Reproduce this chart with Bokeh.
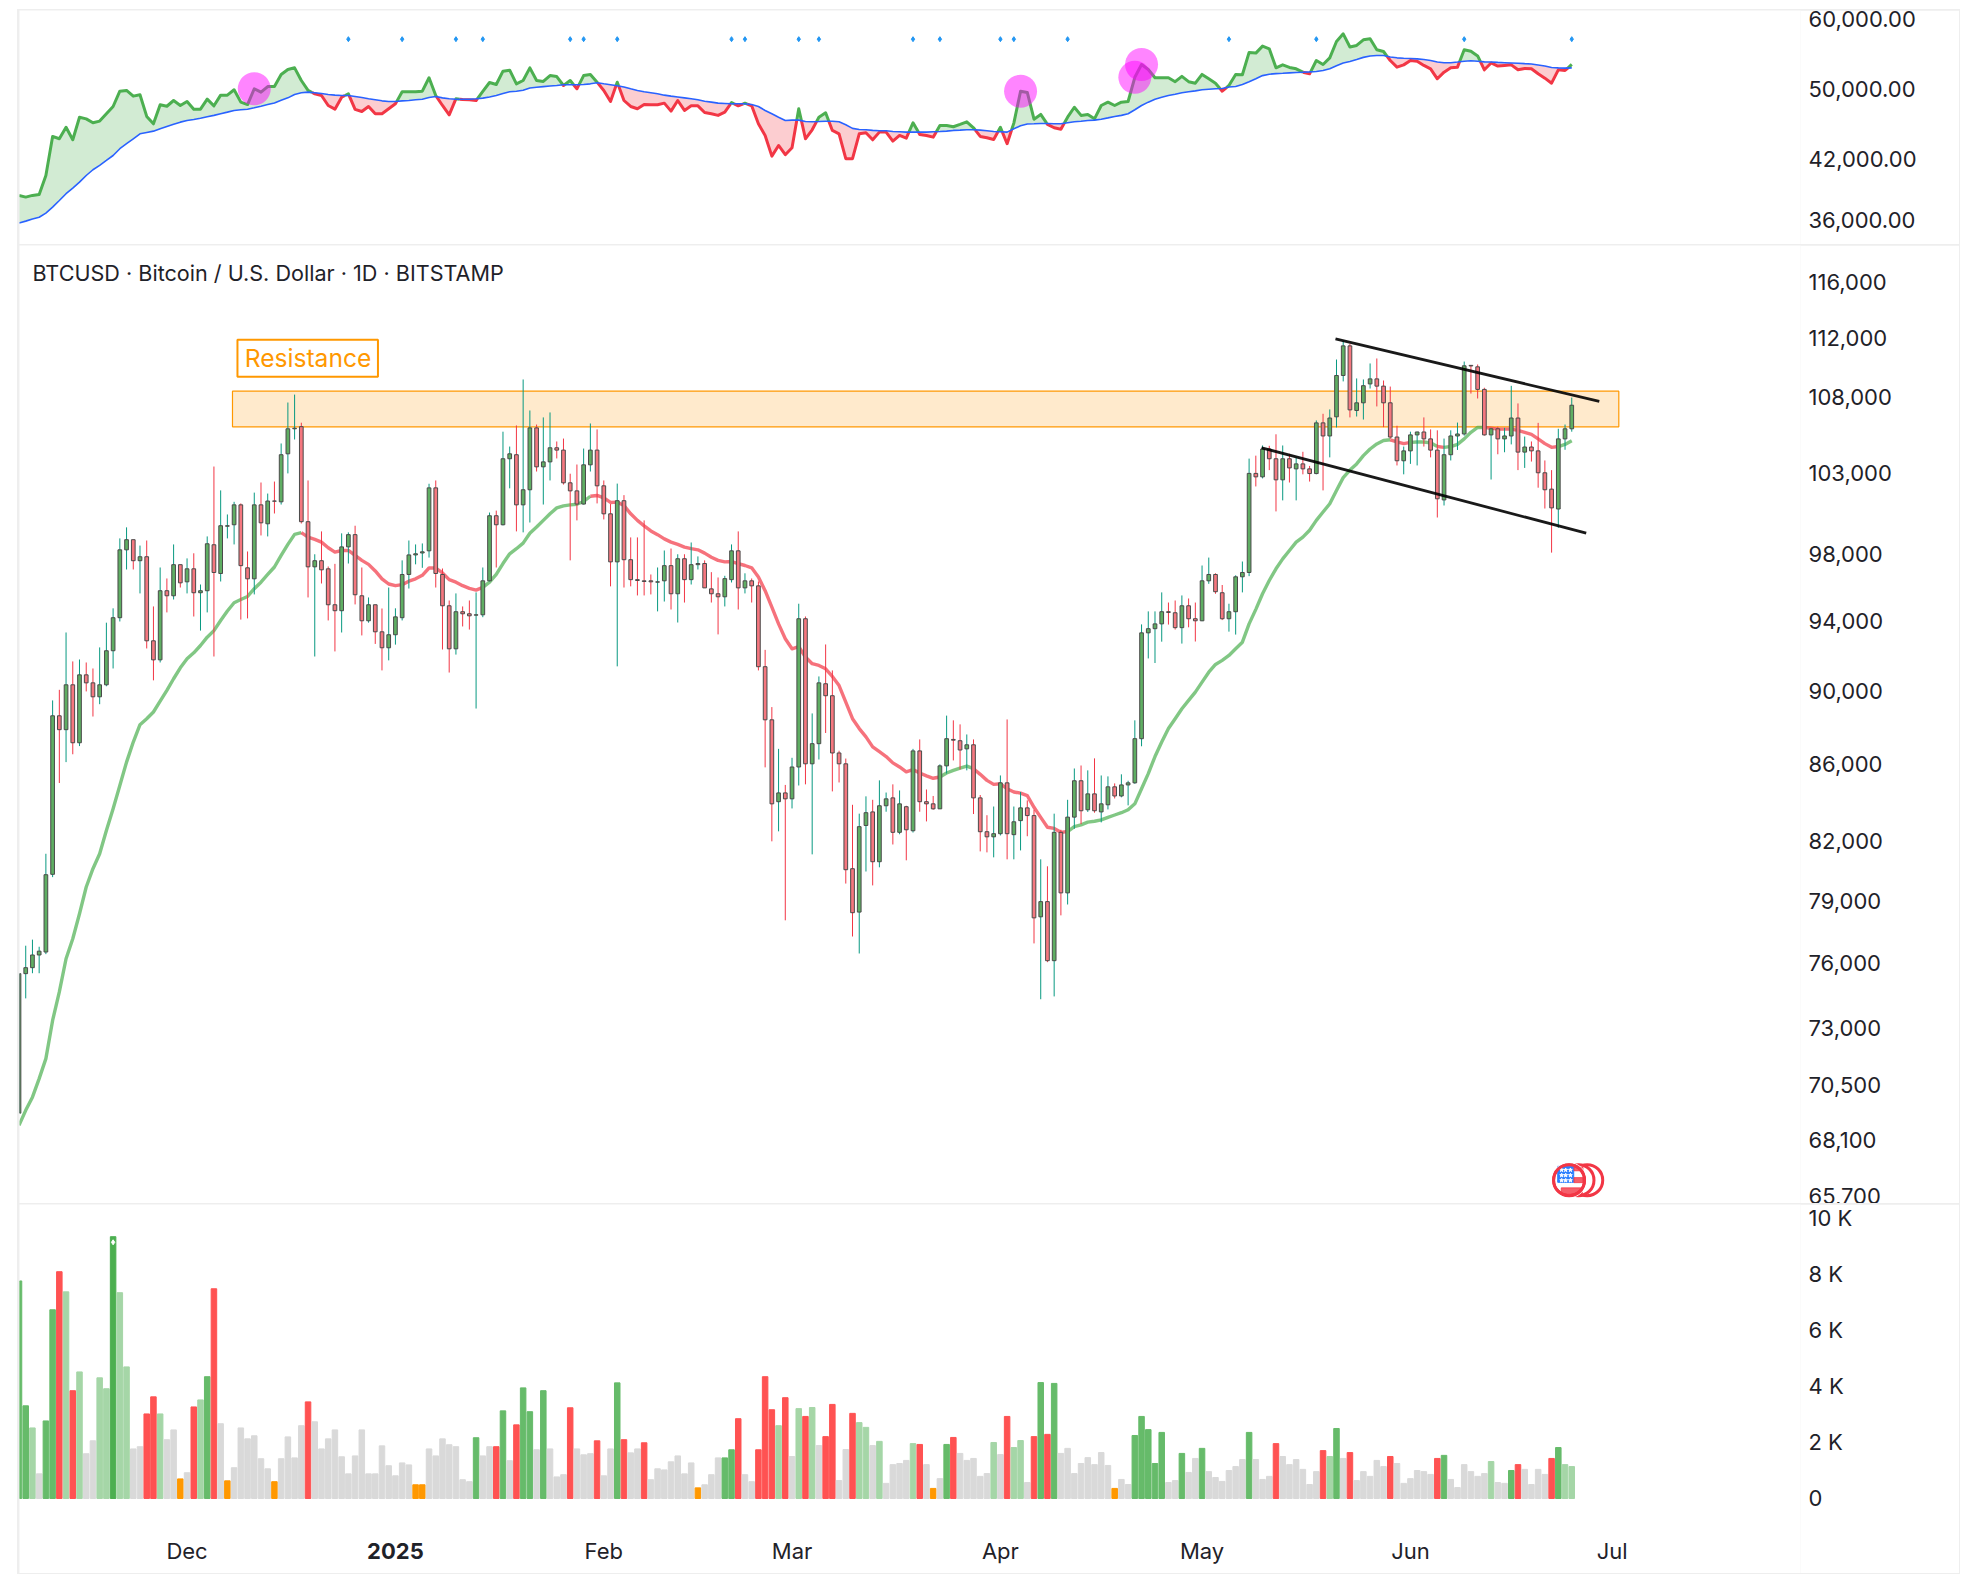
import math
from bokeh.plotting import figure
from bokeh.layouts import column
from bokeh.models import Range1d, FixedTicker, NumeralTickFormatter, Label
from bokeh.embed import file_html
from bokeh.resources import INLINE
from bokeh.core.properties import value

month_ticks = [25, 87, 115, 146, 176, 207, 237]
month_names = ["Dec", "Feb", "Mar", "Apr", "May", "Jun", "Jul"]
year_tick = 56
year_name = "2025"
axis_label_level = -1893

candle_open = [69260,75520,75800,76400,76540,80320,88620,87860,90340,87150,90900,90450,89670,90340,92270,94180,98230,98850,97570,97810,92840,91750,95770,95470,97330,96300,97080,95650,95770,98540,96800,99680,99770,101010,97140,96480,101010,99830,101250,101200,104260,105890,106030,99960,97200,97570,97080,94940,94590,98410,99160,95470,94000,94940,93360,92440,93190,94180,96740,97920,98040,98170,102080,96740,94880,92380,94530,94410,94330,94350,96360,100330,99770,103940,104200,101010,101960,105950,103420,103740,104650,104500,102400,101890,101060,103550,104500,102210,100450,97500,101270,97630,96430,96360,96360,96280,96360,97270,95590,97690,96430,97330,97400,95880,95590,95410,96430,98170,95940,96360,96060,91360,88400,84020,84480,84170,85850,94120,86020,87100,90400,89730,86600,86020,80600,78460,82790,83490,80950,83810,84220,82440,83760,82520,86710,84020,83910,83650,85910,87330,87260,86820,87040,84220,82470,82210,82370,85010,82320,83040,83700,83300,78230,78970,76130,82440,79400,83220,85120,83600,84430,83490,83860,84800,84320,84900,85010,87370,93300,93540,93820,94530,94470,93600,94880,94120,94000,96360,96740,95650,94120,94530,96600,96860,103000,102780,104570,103940,102590,103940,103290,103610,103290,102990,106280,105420,106680,109450,111480,107100,107610,108880,109220,108730,107610,105350,103810,104450,105490,105680,105230,104500,101320,104200,105420,105550,110140,110040,108510,105490,105890,105230,105420,106600,104370,104700,104450,103040,102000,100750,105230,105890]
candle_high = [75520,76840,77130,76790,81350,89470,90060,93320,91660,91770,91600,91260,92460,93890,94730,98930,99610,98850,98490,98800,94840,97160,96500,98560,97330,97710,98020,96140,99050,103440,101920,100410,101200,101100,98130,101780,102420,101720,102480,104930,107630,108160,106290,102550,97960,99360,97220,97380,99240,99300,99710,97160,95370,94940,94720,95960,94730,97590,98800,98560,98620,102340,102550,97100,95190,95610,94840,95190,95670,97160,100530,100650,105700,104730,106110,109180,107100,106170,106640,106970,105060,105250,102980,103570,104600,106240,105850,102550,101060,102350,101620,98990,98990,100040,96740,97160,98190,98310,97960,97960,98680,97830,97590,96880,96560,96660,98560,99360,96810,96500,96320,92320,89100,86820,84900,86340,95000,94250,88750,90810,92630,91150,86720,86300,83860,83400,84300,84120,85140,84500,84930,84610,83810,86820,87330,84660,84320,85990,88630,88370,88150,87600,87330,84370,83320,83770,85400,88420,83770,84530,84090,83600,81070,80720,83400,82570,84120,85770,85930,85670,86310,85400,85350,84980,85460,85120,88370,93790,94550,94550,95670,95070,95190,95490,95310,95070,97280,97760,96810,96110,95000,96690,97520,103950,104140,104800,104780,105530,104800,104260,104030,104390,103480,106440,106880,107170,110540,111850,111620,109250,109180,110270,110610,109110,108700,106090,104730,105700,105700,106640,105850,105790,105250,105790,106300,110400,110140,110200,108620,105950,106030,105950,108750,107570,105380,105060,106280,103830,103210,105890,106170,107960]
candle_low = [69260,74370,75540,75540,76440,80180,85000,86110,86530,86970,89970,88580,89260,90260,91260,93960,97040,97040,95610,92400,90590,91600,94490,95250,95960,95610,94250,93430,94490,91940,96320,98930,98560,94070,94140,95550,99110,99050,100470,101030,103000,105190,99850,95370,91940,96200,94020,92230,93320,97400,94960,93150,93890,92660,91150,91720,92620,94020,95900,97350,97140,97760,95960,92340,91030,92050,93670,93490,89020,94210,96320,97160,99730,102050,99360,99300,99910,103120,101030,102550,103960,102290,97590,100040,101030,103120,101100,100100,96030,91380,95960,96030,95490,95490,95550,94550,95130,94660,93900,95070,96140,97040,95940,95070,93210,94840,96260,94660,95610,95070,91150,85830,81980,82490,78060,83670,84870,84930,81320,86250,87680,84560,85030,79860,77280,76470,80460,79770,80670,83500,81820,82340,81020,82430,83500,83000,83600,83650,85500,86200,85720,85670,83380,81470,81420,81170,82280,81070,81070,81520,82240,76950,74330,76060,74460,78300,78830,82620,82860,83490,83450,82950,83620,84190,84250,83830,84960,86960,91830,91570,92790,93780,93490,92680,93620,92800,93980,96180,95590,94040,93370,93200,95670,96640,102170,102680,103210,100600,101290,102420,101290,102940,102480,102940,101920,104030,105980,109050,106640,106700,106500,108570,107370,106000,105230,103510,102940,103610,103510,104730,104030,100220,100970,103830,104510,105440,108230,107900,105440,102610,104230,104360,104870,103210,103350,103760,102090,100780,98060,99580,104520,105700]
candle_close = [75520,75800,76400,76580,80300,88620,87860,90340,87150,90900,90450,89670,90340,92270,94180,98230,98850,97570,97810,92840,91750,95770,95470,97330,96240,97080,95650,95770,98600,96860,99710,99710,101010,97270,96480,101010,99890,101250,101240,104200,105890,105930,99960,97200,97570,97020,94940,94590,98410,99160,95530,94000,94940,93360,92440,93190,94230,96740,97920,97990,98110,102080,96800,94880,92380,94530,94410,94290,94350,96360,100330,99770,103940,104260,101010,101960,105950,103420,103740,104650,104500,102400,101890,101060,103550,104500,102210,100450,97500,101270,97630,96430,96380,96320,96300,96300,97270,95590,97690,96430,97330,97400,95940,95590,95410,96490,98170,95940,96360,96060,91360,88400,83910,84480,84170,85850,94120,86020,87100,90450,89730,86600,86020,80550,78430,82730,83450,80950,83810,84170,82440,83910,82570,86710,84020,83910,83650,85910,87370,87290,86760,87040,84220,82470,82210,82370,85010,82370,82980,83700,83300,78180,78970,76130,82440,79400,83220,85120,83550,84430,83550,83910,84800,84320,84900,85010,87370,93300,93540,93820,94530,94490,93600,94880,94120,94000,96360,96740,95710,94120,94530,96600,96860,103000,102780,104570,103940,102590,103940,103350,103610,103290,102990,106280,105420,106600,109450,111480,107140,107610,108760,109220,108730,107610,105350,103810,104450,105490,105680,105230,104500,101390,104200,105420,105550,110110,110100,108510,105490,105890,105230,105420,106600,104370,104700,104450,103040,101960,100820,105230,105890,107450]

indicator_line = [38310,38150,38310,38400,40260,44380,44120,45410,44010,46560,46370,45920,46110,46960,47820,49680,49770,49070,49240,46650,45800,48020,47850,48540,47940,48420,47500,47500,48700,47900,49190,49190,49860,48340,48050,49980,49560,50260,50260,51800,52440,52660,51020,49770,49360,49150,47940,47500,48940,49360,47470,47230,47820,46960,46960,47550,48140,49610,49610,49610,49680,51370,49150,47940,46840,48750,48660,48630,48540,49650,50770,50520,52220,52350,50600,51020,52660,51020,50900,51650,51520,50390,51020,49980,51650,51800,50810,49770,48420,50810,48540,47820,47550,48050,48020,48020,48220,47270,48540,47350,47900,47900,47110,46960,46770,47150,48300,47900,48220,47900,45800,44490,42250,43390,42400,43140,47550,44120,45120,46560,47080,45050,44670,41980,41980,44670,44780,44010,44860,44860,43860,44490,44190,45920,44600,44490,44300,45610,45610,45460,45730,46030,45350,44380,44240,44050,45410,43580,45880,49680,49520,46330,46880,45730,45350,45190,46560,47730,46770,46880,46370,47940,48340,47940,48340,48420,51430,53100,52440,51370,51370,51370,50870,51560,50870,50680,51800,51240,50680,49680,50390,51800,51760,54720,54630,55590,55220,52660,53050,52710,52530,52090,51880,53630,53100,53990,56230,57320,55470,55680,56470,56610,55080,54850,53630,52750,53050,53630,53540,52980,52530,51240,52090,52660,52750,55080,54890,54250,52400,53300,52890,52980,53050,52400,52580,52530,51880,51320,50680,52400,52310,53100]
indicator_avg = [35760,35930,36130,36280,36660,37210,37830,38470,39010,39600,40260,40840,41290,41800,42320,43040,43580,44120,44670,44820,44970,45230,45490,45750,45990,46180,46300,46440,46610,46770,46960,47150,47350,47430,47500,47670,47850,48050,48250,48580,48860,49280,49490,49560,49490,49390,49280,49190,49150,49150,49030,48900,48750,48630,48500,48420,48420,48500,48540,48630,48700,48900,49030,48860,48750,48700,48700,48700,48750,48830,48970,49150,49390,49610,49680,49800,50070,50180,50250,50320,50390,50490,50490,50490,50520,50600,50730,50600,50490,50360,50200,49980,49770,49610,49490,49360,49190,49070,48970,48860,48750,48630,48450,48340,48220,48180,48140,48140,48140,48050,47820,47350,46960,46560,46180,46220,46220,46060,46030,46060,46100,46100,46030,45690,45280,45160,45120,45050,45010,45010,44930,44900,44860,44860,44860,44860,44900,44930,44970,45050,45080,45120,45120,45080,45010,44930,44900,44860,45240,45580,45770,45800,45840,45840,45800,45800,45920,46030,46100,46180,46220,46330,46480,46650,46770,46960,47430,47940,48340,48700,48940,49150,49310,49490,49610,49720,49860,49930,49980,50020,50200,50260,50520,50870,51240,51650,51830,51910,51950,52000,52050,52090,52130,52180,52310,52530,52920,53300,53510,53770,54050,54240,54300,54300,54110,53990,53940,53900,53850,53770,53630,53430,53340,53340,53430,53540,53590,53540,53450,53430,53380,53340,53300,53260,53210,53170,53030,52890,52710,52660,52620,52660]
signal_days = [49,57,65,69,82,84,89,106,108,116,119,133,137,146,148,156,180,193,215,231]
signal_level = 56560
highlight_days = [35,149,166,167]

moving_avg = [68740,69380,69950,70760,71640,73360,74670,76220,77170,78380,79690,80600,81350,82530,83650,84870,86110,87190,88130,88460,88830,89430,90030,90680,91300,91810,92150,92570,93050,93430,94020,94570,95060,95250,95430,95890,96280,96740,97190,97890,98560,99180,99280,99010,98870,98700,98360,98090,98190,98190,97890,97590,97350,96950,96480,96170,96070,96130,96340,96480,96690,97130,97130,96830,96430,96280,96070,95910,95810,95970,96280,96740,97400,97990,98300,98640,99250,99630,100040,100450,100820,100950,101010,101050,101220,101550,101600,101450,101160,101180,100970,100450,100040,99700,99390,99160,98900,98700,98560,98400,98300,98230,98030,97780,97590,97500,97520,97400,97280,97140,96590,95770,94800,93820,92960,92380,92500,91910,91530,91430,91240,90810,90300,89370,88460,87920,87470,86930,86670,86410,86070,85850,85590,85710,85530,85380,85250,85320,85530,85670,85790,85900,85760,85460,85140,84930,84960,84700,84530,84470,84340,83730,83210,82700,82640,82440,82480,82730,82820,82960,83010,83080,83210,83330,83450,83600,83910,84700,85500,86410,87190,87920,88460,89010,89470,89930,90490,91050,91490,91720,92000,92380,92760,93820,94670,95590,96380,97080,97680,98190,98700,99010,99430,100040,100560,101080,101920,102730,103210,103610,104140,104570,104900,105120,105170,105030,104920,105000,105030,105030,104970,104730,104680,104730,104870,105230,105660,105980,105980,105930,105870,105870,105870,105790,105660,105530,105230,104920,104680,104730,104870,105100]
ma_colors = "G"*42 + "R"*27 + "G"*16 + "R"*52 + "G"*5 + "R"*14 + "G"*48 + "R"*3 + "G"*4 + "R" + "G"*6 + "R"*11 + "G"*3

volume = [7770,3310,2520,880,2770,6740,8100,7380,3850,4520,1600,2060,4310,3920,9350,7350,4700,1770,1850,3020,3630,3020,2100,2450,700,920,3270,3520,4350,7490,2670,630,1100,2520,2130,2240,1420,1060,600,1420,2200,1450,2600,3450,2740,1770,2130,2450,1490,880,1520,2450,880,880,1880,1170,810,1270,1200,490,490,1770,1520,2130,1920,1850,670,600,2170,1520,1850,1850,3130,1350,2630,3950,3100,1740,3850,1770,770,850,3240,1770,1560,1600,2060,810,1770,4130,2100,1630,1770,1990,670,1060,1020,1310,1520,880,1270,380,490,850,1450,1450,1740,2850,850,600,1740,4350,3170,2600,3600,1500,3210,2930,3250,1890,2210,3360,640,1750,3040,2710,2540,1890,2040,540,1210,1250,1360,1960,1930,1210,360,710,1930,2180,1610,1360,1430,790,890,2000,1570,2930,1820,2070,570,2210,4140,2290,4110,1610,1790,890,1250,1460,1210,1640,1180,360,680,500,2250,2930,2460,1250,2360,570,640,1610,930,1430,1790,960,750,610,1000,1140,1390,2360,1390,680,790,1960,1500,1210,1390,1040,500,960,1710,1500,2500,1430,1640,640,960,790,1360,1140,1500,1250,540,710,1000,960,860,1430,1540,680,390,1210,960,790,890,1320,570,540,1000,1210,1040,500,1040,860,1430,1820,1210,1140]
volume_kind = ("GGLAGGRLRLAALLDLLAARRLAAOARLGRAO" + "AAAAAAOAAAAR" + "A"*15 + "OO" + "A"*7 + "GAARGARGGAGAAARAAARAAGRAAR" + "A"*7 + "OAAAGGRAARRRLR"
    + "ALRLARRAARLLAL" + "AAAA" + "LRAOAGR" + "A"*5 + "LARLLARGRG" + "A"*8 + "OAA" + "GGGGG" + "AAGAAG" + "A"*6 + "GAAAR" + "A"*6 + "RLGAR" + "A"*5 + "R" + "A"*6 + "RG" + "A"*6 + "LAAGR" + "AAAA" + "RGLL")

price_ticks = [116000,112000,108000,103000,98000,94000,90000,86000,82000,79000,76000,73000,70500,68100,65700]
indicator_ticks = [60000,50000,42000,36000]
volume_ticks = [0,2000,4000,6000,8000,10000]
volume_tick_names = {0:"0",2000:"2 K",4000:"4 K",6000:"6 K",8000:"8 K",10000:"10 K"}

resistance_zone = dict(left=31.76, right=238.0, bottom=106020, top=108390)
resistance_tag = dict(left=32.5, right=53.4, bottom=109360, top=111900, text="Resistance", x=43, y=110620)
channel_upper = ([195.85, 235.1], [111970, 107700])
channel_lower = ([184.85, 233.15], [104650, 99250])
title_text = "BTCUSD · Bitcoin / U.S. Dollar · 1D · BITSTAMP"

FONT = "Inter"
INK = "#1f2229"
GREEN, RED = "#4caf50", "#f23645"
X_RANGE = (0.074, 265.03)
FIG_W, R_PAD = 1940, 159

def base(height, yr, log=False, m=(0,1,0,2)):
    p = figure(width=FIG_W, height=height, x_range=Range1d(*X_RANGE), y_range=Range1d(*yr),
               y_axis_type="log" if log else "linear", y_axis_location="right",
               x_axis_location=None,
               toolbar_location=None, output_backend="svg", margin=m,
               min_border_left=0, min_border_top=0, min_border_bottom=0, min_border_right=R_PAD,
               outline_line_color=None, background_fill_color="white", border_fill_color="white")
    p.grid.visible = False
    ax = p.yaxis[0]
    ax.axis_line_color = None
    ax.major_tick_line_color = None
    ax.minor_tick_line_color = None
    ax.major_tick_out = 0
    ax.major_tick_in = 0
    ax.major_label_standoff = 8
    ax.major_label_text_font = FONT
    ax.major_label_text_font_size = "22px"
    ax.major_label_text_color = INK
    return p

# ---------- indicator pane
top = base(234, (33896, 60753), log=True, m=(1,1,0,2))
top.yaxis[0].ticker = FixedTicker(ticks=indicator_ticks)
top.yaxis[0].formatter = NumeralTickFormatter(format="0,0.00")

runs, cur, sign = [], [], None
n = len(indicator_line)
for i in range(n):
    d = math.log(indicator_line[i]) - math.log(indicator_avg[i])
    s = d >= 0
    if sign is None:
        sign = s
    if s != sign:
        d0 = math.log(indicator_line[i-1]) - math.log(indicator_avg[i-1])
        t = d0 / (d0 - d)
        v = math.exp(math.log(indicator_line[i-1]) + t*(math.log(indicator_line[i]) - math.log(indicator_line[i-1])))
        cur.append((i-1+t, v, v))
        runs.append((sign, cur))
        cur = [(i-1+t, v, v)]
        sign = s
    cur.append((i, indicator_line[i], indicator_avg[i]))
runs.append((sign, cur))

for up_run, pts in runs:
    xs = [a[0] for a in pts]
    top.patch(xs + xs[::-1], [a[1] for a in pts] + [a[2] for a in pts][::-1],
              fill_color=GREEN if up_run else RED, fill_alpha=0.25, line_color=None)
for up_run, pts in runs:
    top.line([a[0] for a in pts], [a[1] for a in pts], line_color=GREEN if up_run else RED,
             line_width=3, line_join="round")
top.line(list(range(n)), indicator_avg, line_color="#2962ff", line_width=1.6)
top.scatter(signal_days, [signal_level]*len(signal_days), marker="diamond", size=5, color="#2196f3")
top.scatter(highlight_days, [indicator_line[i] for i in highlight_days], marker="circle", size=33,
            fill_color="#ff00ff", fill_alpha=0.48, line_color=None)

# ---------- price pane
main = base(958, (65484, 118642), log=True)
main.yaxis[0].ticker = FixedTicker(ticks=price_ticks)
main.yaxis[0].formatter = NumeralTickFormatter(format="0,0")

main.quad(left=resistance_zone["left"], right=resistance_zone["right"], bottom=resistance_zone["bottom"],
          top=resistance_zone["top"], fill_color="#ff9800", fill_alpha=0.2, line_color="#ff9800", line_width=1.2)

start = 0
for i in range(1, len(moving_avg)+1):
    if i == len(moving_avg) or ma_colors[i] != ma_colors[start]:
        end = min(i, len(moving_avg)-1)
        xs = list(range(start, end+1))
        main.line(xs, moving_avg[start:end+1], line_color=GREEN if ma_colors[start]=="G" else RED,
                  line_alpha=0.7, line_width=3.4, line_join="round")
        start = i

idx = list(range(len(candle_open)))
up = [c >= o for o, c in zip(candle_open, candle_close)]
main.segment(idx, candle_high, idx, candle_low, line_color=["#089981" if u else "#f23645" for u in up], line_width=1)
main.vbar(idx, width=0.55, bottom=[min(o,c) for o,c in zip(candle_open,candle_close)],
          top=[max(o,c) for o,c in zip(candle_open,candle_close)],
          fill_color=["#5fae63" if u else "#f5777f" for u in up], line_color="#4a4a4a", line_width=1)

main.quad(left=resistance_tag["left"], right=resistance_tag["right"], bottom=resistance_tag["bottom"],
          top=resistance_tag["top"], fill_color="white", line_color="#ff9800", line_width=2)
main.text([resistance_tag["x"]], [resistance_tag["y"]], text=[resistance_tag["text"]], text_align="center",
          text_baseline="middle", text_color="#ff9800", text_font=value(FONT), text_font_size="24.6px")
main.line(*channel_upper, line_color="black", line_width=2.8, line_alpha=0.9)
main.line(*channel_lower, line_color="black", line_width=2.8, line_alpha=0.9)
main.add_layout(Label(x=2.0, y=116670, text=title_text, text_font=FONT, text_font_size="21.6px",
                      text_color=INK, text_baseline="middle"))

# event badge
for bx in (233.3, 232.0, 230.6):
    main.scatter([bx], [66440], marker="circle", size=31, fill_color="white", line_color=RED, line_width=3)
main.rect([230.1], [66680], width=16, height=16, width_units="screen", height_units="screen", color="#2b7fff")
for bx, by, w, h in ((232.0, 66900, 9, 3.5), (232.0, 66440, 9, 5), (231.0, 66000, 21, 6)):
    main.rect([bx], [by], width=w, height=h, width_units="screen", height_units="screen", color=RED, alpha=0.8)
main.scatter([229.5,230.1,230.8]*3, [66860]*3+[66640]*3+[66430]*3, marker="star", size=4, color="white")
main.scatter([230.6], [66440], marker="circle", size=35, fill_color=None, line_color="white", line_width=1)
main.scatter([230.6], [66440], marker="circle", size=31, fill_color=None, line_color=RED, line_width=3)

# ---------- volume pane
vol = base(369, (-2679, 10500), m=(0,1,1,2))
vol.yaxis[0].ticker = FixedTicker(ticks=volume_ticks)
vol.yaxis[0].major_label_overrides = volume_tick_names
palette = {"G":"#66bb6a","D":"#4caf50","L":"#a5d6a7","R":"#ff5252","A":"#d9d9d9","O":"#ff9800"}
vol.vbar(list(range(232)), width=0.82, bottom=0, top=volume, color=[palette[k] for k in volume_kind])
vol.scatter([14], [volume[14]-200], marker="diamond", size=5, color="white")
vol.text(month_ticks, [axis_label_level]*len(month_ticks), text=month_names, text_align="center", text_baseline="middle",
         text_color=INK, text_font=value(FONT), text_font_size="22px")
vol.text([year_tick], [axis_label_level], text=[year_name], text_align="center", text_baseline="middle",
         text_color=INK, text_font=value(FONT), text_font_size="22px", text_font_style="bold")

panes = column(top, main, vol, spacing=1, margin=(9,0,0,17), width=1943, height=1565,
               styles={"background-color":"#eeeeee"})
root = column(panes, width=1960, height=1574)
open("out.html", "w").write(file_html(root, INLINE))
